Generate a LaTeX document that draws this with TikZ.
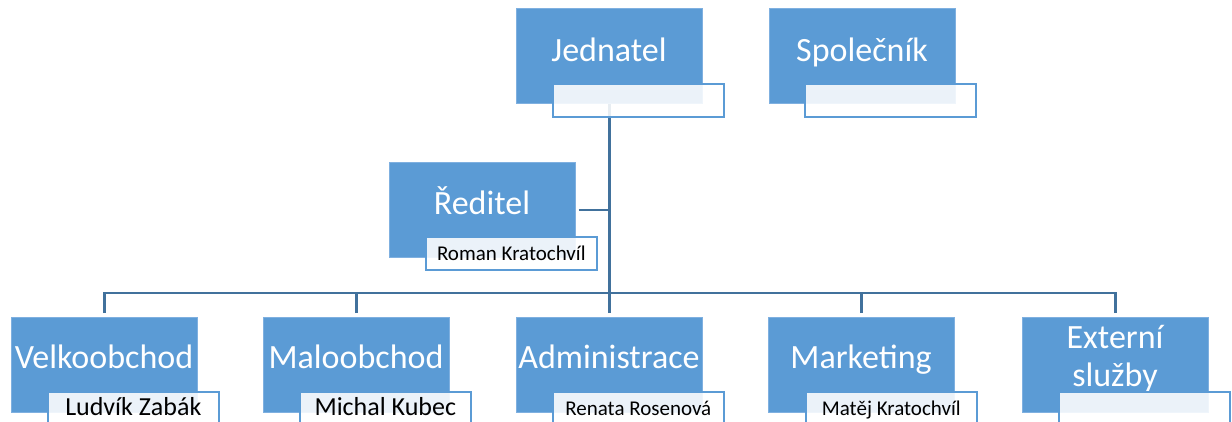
\documentclass[tikz,border=0pt]{standalone}
\usepackage{fontspec}
\setmainfont{Carlito}
\definecolor{boxblue}{HTML}{5B9BD5}
\definecolor{boxedge}{HTML}{7FB0E0}
\definecolor{linecol}{HTML}{41719C}
\begin{document}
\begin{tikzpicture}[x=1pt,y=-1pt,
  box/.style={anchor=north west, fill=boxblue, draw=boxedge, line width=0.8pt,
    minimum width=186pt, minimum height=95pt, inner sep=0pt},
  title/.style={anchor=base, text=white, font=\fontsize{34}{38}\selectfont, inner sep=0pt},
  namebox/.style={anchor=north west, fill=white, fill opacity=0.88, text opacity=1,
    draw=boxblue, line width=1.6pt, minimum width=171pt, minimum height=33pt, inner sep=0pt,
    text height=16pt, text depth=2pt},
  small/.style={font=\fontsize{21}{24}\selectfont},
  big/.style={font=\fontsize{26}{28}\selectfont},
  conn/.style={draw=linecol, line width=2.6pt}]
\useasboundingbox (0,0) rectangle (1232,421);
% boxes
\node[box] (jed) at (516,8) {};
\node[box] (spol) at (769,8) {};
\node[box] (red) at (389,162) {};
\node[box] (velk) at (11,317) {};
\node[box] (malo) at (263,317) {};
\node[box] (admin) at (516,317) {};
\node[box] (mark) at (768,317) {};
\node[box] (ext) at (1022,317) {};
% connectors
\coordinate (bus) at (609,293);
\draw[conn] (jed.south) -- (admin.north |- bus);
\draw[conn, shorten <=4pt] (admin.north) -- (admin.north |- bus);
\draw[conn, shorten <=3pt] (red.east) -- (red.east -| jed.south);
\draw[conn, shorten <=4pt] (velk.north) |- (bus);
\draw[conn, shorten <=4pt] (ext.north) |- (bus);
\draw[conn, shorten <=4pt] (malo.north) -- (malo.north |- bus);
\draw[conn, shorten <=4pt] (mark.north) -- (mark.north |- bus);
% titles
\node[title] (jedT) at (609,61) {Jednatel};
\node[title] (spolT) at (862,61) {Společník};
\node[title] (redT) at (482,214) {Ředitel};
\node[title] (velkT) at (104,368) {Velkoobchod};
\node[title] (maloT) at (356,368) {Maloobchod};
\node[title] (adminT) at (609,368) {Administrace};
\node[title] (markT) at (861,368) {Marketing};
\node[title] (extT1) at (1115,348) {Externí};
\node[title] (extT2) at (1115,386) {služby};
% name labels
\node[namebox] (jedN) at (552,83) {};
\node[namebox] (spolN) at (804,83) {};
\node[namebox, small] (redN) at (425,236) {Roman Kratochvíl};
\node[namebox, big] (velkN) at (47,391) {Ludvík Zabák};
\node[namebox, big] (maloN) at (299,391) {Michal Kubec};
\node[namebox, small] (adminN) at (552,391) {Renata Rosenová};
\node[namebox, small] (markN) at (805,391) {Matěj Kratochvíl};
\node[namebox] (extN) at (1058,391) {};
\end{tikzpicture}
\end{document}
